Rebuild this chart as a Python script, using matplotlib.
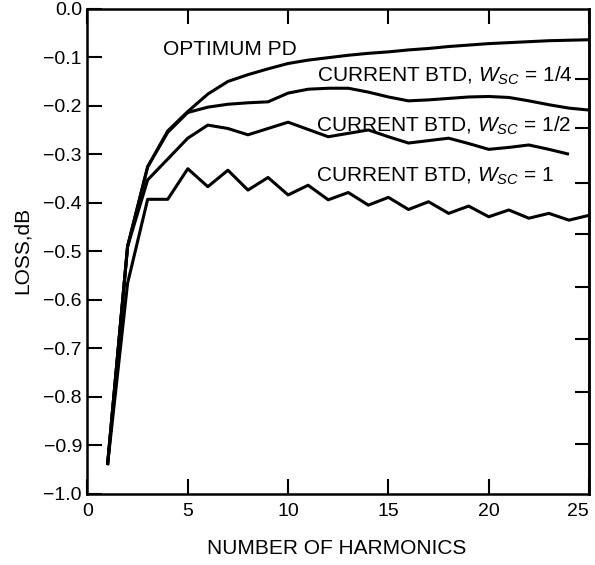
import matplotlib
matplotlib.use('Agg')
import matplotlib.pyplot as plt

plt.rcParams['font.family'] = ['Liberation Sans', 'DejaVu Sans']
plt.rcParams['mathtext.fontset'] = 'custom'
plt.rcParams['mathtext.rm'] = 'Liberation Sans'
plt.rcParams['mathtext.it'] = 'Liberation Sans:italic'
plt.rcParams['axes.unicode_minus'] = True

# ---- data ----
harmonics = list(range(1, 26))

optimum_pd = [-0.941, -0.490, -0.326, -0.252, -0.212, -0.176, -0.150, -0.136,
              -0.124, -0.113, -0.106, -0.101, -0.096, -0.092, -0.089, -0.085,
              -0.082, -0.078, -0.075, -0.072, -0.070, -0.068, -0.066, -0.065,
              -0.064]

btd_quarter = [-0.941, -0.490, -0.326, -0.255, -0.214, -0.203, -0.197, -0.194,
               -0.192, -0.174, -0.166, -0.164, -0.164, -0.172, -0.182, -0.190,
               -0.188, -0.185, -0.182, -0.181, -0.183, -0.190, -0.198, -0.205,
               -0.209]

btd_half = [-0.941, -0.490, -0.353, -0.310, -0.267, -0.240, -0.247, -0.260,
            -0.247, -0.234, -0.249, -0.264, -0.257, -0.250, -0.264, -0.277,
            -0.272, -0.267, -0.278, -0.290, -0.286, -0.281, -0.290, -0.300]

btd_one = [-0.941, -0.566, -0.393, -0.393, -0.330, -0.367, -0.333, -0.374,
           -0.348, -0.384, -0.364, -0.394, -0.379, -0.405, -0.389, -0.414,
           -0.398, -0.422, -0.407, -0.429, -0.415, -0.432, -0.422, -0.436,
           -0.426]

x_ticks = [0, 5, 10, 15, 20, 25]
x_tick_labels = ['0', '5', '10', '15', '20', '25']
y_ticks = [0.0, -0.1, -0.2, -0.3, -0.4, -0.5, -0.6, -0.7, -0.8, -0.9, -1.0]
y_tick_labels = ['0.0', '\u22120.1', '\u22120.2', '\u22120.3', '\u22120.4',
                 '\u22120.5', '\u22120.6', '\u22120.7', '\u22120.8',
                 '\u22120.9', '\u22121.0']
right_ticks = [-0.145, -0.247, -0.359, -0.465, -0.573, -0.681, -0.790, -0.897]

labels = ['OPTIMUM PD',
          r'CURRENT BTD, $W_{SC}$ = 1/4',
          r'CURRENT BTD, $W_{SC}$ = 1/2',
          r'CURRENT BTD, $W_{SC}$ = 1']
label_pos = [(3.75, -0.095), (11.44, -0.151), (11.40, -0.254), (11.40, -0.357)]

# ---- figure ----
fig = plt.figure(figsize=(5.95, 5.65), dpi=100)
ax = fig.add_axes([0.147, 0.1262, 0.9900 - 0.147, 0.9846 - 0.1262])

for series in (optimum_pd, btd_quarter, btd_half, btd_one):
    ax.plot(harmonics[:len(series)], series, color='black', lw=2.2,
            solid_joinstyle='round', solid_capstyle='butt')

ax.set_xlim(0, 25)
ax.set_ylim(-1.0, 0.0)
ax.set_xticks(x_ticks)
ax.set_xticklabels(x_tick_labels)
ax.set_yticks(y_ticks)
ax.set_yticklabels(y_tick_labels)
ax.tick_params(direction='in', length=11, width=1.5, top=True, right=False,
               labelsize=14, color='black')
ax.tick_params(axis='x', pad=7)
ax.tick_params(axis='y', pad=4)
for s in ax.spines.values():
    s.set_linewidth(1.8)
ax.get_xticklabels()[-1].set_horizontalalignment('right')

sec = ax.secondary_yaxis('right')
sec.set_yticks(right_ticks)
sec.tick_params(direction='in', length=10, width=1.5, labelright=False)
sec.spines['right'].set_linewidth(1.8)

for txt, (xx, yy) in zip(labels, label_pos):
    ax.text(xx, yy, txt, fontsize=15, ha='left', va='baseline')

fig.text(22 / 595, 1 - 250 / 565, 'LOSS,dB', rotation=90, fontsize=15,
         ha='center', va='center')
fig.text(337 / 595, 1 - 549 / 565, 'NUMBER OF HARMONICS', fontsize=15,
         ha='center', va='center')

fig.savefig('out.png', dpi=100)
